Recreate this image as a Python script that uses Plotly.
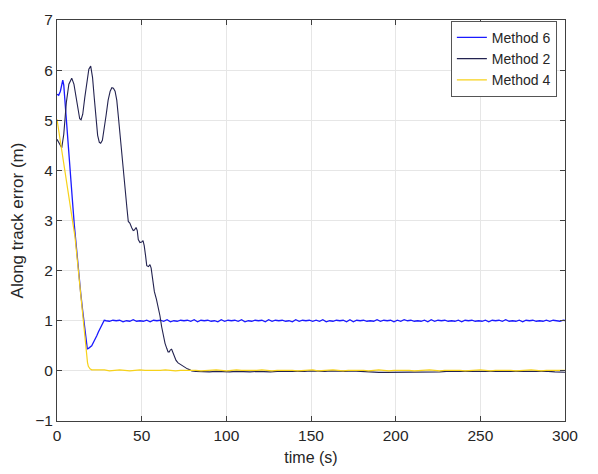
import numpy as np
import plotly.graph_objects as go

# Method 6 (blue) - transient part
m6_t = [0, 1, 2, 2.8, 3.4, 4.0, 4.6, 5.5, 6.5, 7.7, 9.0, 10.2, 11.4, 12.6, 14.0,
        15.0, 16.0, 16.8, 17.4, 17.9, 18.6, 19.5, 20.5, 21.4, 22.5, 23.5, 24.5,
        25.4, 26.5, 27.3, 27.9]
m6_v = [5.52, 5.50, 5.58, 5.75, 5.80, 5.70, 5.45, 5.00, 4.50, 4.00, 3.45, 2.92,
        2.45, 2.02, 1.55, 1.25, 1.00, 0.78, 0.58, 0.44, 0.45, 0.48, 0.50, 0.56,
        0.62, 0.70, 0.78, 0.85, 0.93, 0.98, 1.01]
# Method 6 steady part, sampled every 2 s from 29 s
m6_tail = [1.00, 0.99, 1.01, 1.00, 1.01, 0.98, 1.00, 0.99, 1.02, 0.99, 1.00, 0.99,
           1.01, 0.98, 1.01, 1.00, 1.01, 0.99, 1.02, 0.98, 1.00, 0.99, 1.01, 1.00,
           1.01, 0.99, 1.02, 0.98, 1.01, 1.00, 1.01, 0.99, 1.00, 0.98, 1.02, 0.99,
           1.01, 1.00, 1.01, 0.99, 1.02, 0.98, 1.00, 0.99, 1.01, 1.00, 1.01, 0.98,
           1.02, 0.99, 1.01, 1.00, 1.01, 0.99, 1.00, 0.98, 1.02, 0.99, 1.01, 1.00,
           1.01, 0.99, 1.01, 0.99, 1.02, 0.98, 1.00, 0.99, 1.01, 1.00, 1.01, 0.98,
           1.02, 0.98, 1.01, 1.00, 1.01, 0.99, 1.00, 0.99, 1.02, 0.99, 1.01, 1.00,
           1.01, 0.98, 1.01, 0.99, 1.02, 1.00, 1.01, 0.99, 1.00, 0.99, 1.01, 0.98,
           1.02, 0.99, 1.01, 1.00, 1.01, 0.99, 1.00, 0.99, 1.01, 0.98, 1.01, 1.00,
           1.01, 0.99, 1.00, 0.99, 1.01, 0.98, 1.01, 1.00, 1.01, 0.99, 1.02, 0.99,
           1.00, 0.99, 1.01, 0.98, 1.01, 1.00, 1.01, 0.99, 1.00, 0.99, 1.01, 0.99,
           1.01, 1.00, 0.99, 1.01, 1.00]

# Method 2 (dark navy) - transient part
m2_t = [0, 1, 2, 2.8, 4.0, 5.5, 7.0, 8.7, 10.0, 11.2, 12.4, 13.4, 14.2, 15.2,
        16.4, 17.6, 18.8, 19.9, 21.0, 22.0, 23.0, 24.0, 25.0, 25.8, 26.8, 27.8,
        29.0, 30.2, 31.4, 32.4, 33.3, 34.3, 35.3, 36.3, 37.4, 38.4, 39.2, 40.3,
        41.3, 42.1, 43.0, 44.2, 45.0, 45.7, 46.7, 47.4, 48.0, 49.0, 50.0, 50.8,
        51.5, 52.3, 53.0, 54.0, 54.9, 55.6, 56.3, 57.5, 58.7, 59.8, 60.8, 61.8,
        62.8, 63.8, 64.8, 65.6, 66.3, 67.0, 67.7, 68.5, 69.3, 70.3, 71.5, 72.7,
        74.0, 75.6, 77.0, 78.5, 79.6]
m2_v = [4.62, 4.56, 4.48, 4.45, 4.72, 5.35, 5.72, 5.84, 5.72, 5.45, 5.18, 5.03,
        5.01, 5.12, 5.45, 5.80, 6.02, 6.08, 5.85, 5.45, 5.02, 4.70, 4.56, 4.54,
        4.60, 4.80, 5.10, 5.40, 5.58, 5.65, 5.64, 5.58, 5.40, 5.05, 4.62, 4.25,
        4.01, 3.62, 3.25, 2.98, 2.95, 2.85, 2.80, 2.81, 2.86, 2.80, 2.62, 2.56,
        2.57, 2.60, 2.50, 2.30, 2.10, 2.08, 2.12, 2.05, 1.85, 1.58, 1.43, 1.28,
        1.10, 0.88, 0.70, 0.55, 0.45, 0.38, 0.38, 0.42, 0.43, 0.35, 0.27, 0.21,
        0.16, 0.13, 0.10, 0.07, 0.04, 0.02, 0.00]
# Method 2 steady part, sampled every 4 s from 82 s
m2_tail = [-0.01, -0.02, -0.02, -0.01, -0.02, -0.02, -0.01, -0.02, -0.02, -0.01,
           -0.02, -0.02, -0.01, -0.01, -0.02, -0.01, -0.01, -0.00, -0.01, -0.01,
           -0.00, -0.01, -0.01, -0.00, -0.01, -0.01, -0.02, -0.03, -0.03, -0.03,
           -0.03, -0.03, -0.02, -0.03, -0.03, -0.02, -0.02, -0.01, -0.01, -0.00,
           -0.01, -0.01, -0.00, -0.01, -0.00, 0.00, -0.01, -0.00, -0.01, 0.00,
           -0.01, -0.00, -0.01, -0.02, -0.03, -0.03]

# Method 4 (yellow) - transient part
m4_t = [0, 1, 2, 3, 4.7, 6.0, 7.5, 9.1, 10.6, 11.6, 12.6, 13.5, 14.5, 15.5,
        16.5, 17.0, 17.5, 18.0, 18.5, 19.0, 19.5, 20.5]
m4_v = [5.02, 4.80, 4.60, 4.38, 4.00, 3.72, 3.38, 3.00, 2.68, 2.35, 2.00, 1.66,
        1.33, 1.00, 0.62, 0.44, 0.29, 0.17, 0.09, 0.06, 0.04, 0.02]
# Method 4 steady part, sampled every 3 s from 22 s
m4_tail = [0.02, 0.01, 0.02, 0.00, 0.01, 0.02, 0.01, 0.00, 0.01, 0.02, 0.01, 0.01,
           0.00, 0.01, 0.02, 0.01, 0.00, 0.01, 0.01, 0.02, 0.01, 0.00, 0.01, 0.01,
           0.02, 0.01, 0.00, 0.01, 0.02, 0.01, 0.01, 0.00, 0.01, 0.02, 0.01, 0.00,
           0.01, 0.01, 0.02, 0.01, 0.00, 0.01, 0.01, 0.02, 0.00, 0.01, 0.01, 0.02,
           0.01, 0.00, 0.01, 0.01, 0.02, 0.01, 0.00, 0.01, 0.02, 0.01, 0.00, 0.01,
           0.01, 0.02, 0.01, 0.00, 0.01, 0.01, 0.02, 0.01, 0.00, 0.01, 0.01, 0.02,
           0.01, 0.00, 0.01, 0.01, 0.02, 0.01, 0.00, 0.01, 0.01, 0.02, 0.01, 0.00,
           0.01, 0.01, 0.02, 0.01, 0.00, 0.01, 0.01, 0.00, 0.01, 0.01]

x_ticks = [0, 50, 100, 150, 200, 250, 300]
y_ticks = [-1, 0, 1, 2, 3, 4, 5, 6, 7]


def join(t, v, start, step, tail):
    tt = list(t) + list(start + step * np.arange(len(tail)))
    return tt, list(v) + list(tail)


t6, v6 = join(m6_t, m6_v, 29, 2, m6_tail)
t2, v2 = join(m2_t, m2_v, 82, 4, m2_tail)
t4, v4 = join(m4_t, m4_v, 22, 3, m4_tail)

fig = go.Figure()
fig.add_trace(go.Scatter(x=t6, y=v6, mode='lines', name='Method 6',
                         line=dict(color='#1a1aff', width=1.3)))
fig.add_trace(go.Scatter(x=t2, y=v2, mode='lines', name='Method 2',
                         line=dict(color='#232350', width=1.1)))
fig.add_trace(go.Scatter(x=t4, y=v4, mode='lines', name='Method 4',
                         line=dict(color='#f7d21a', width=1.2)))

axis_style = dict(showline=True, linecolor='#404040', linewidth=1, mirror='ticks',
                  ticks='inside', ticklen=5, tickcolor='#404040',
                  showgrid=True, gridcolor='#e6e6e6', zeroline=False,
                  automargin=False,
                  tickfont=dict(size=15.5, color='#262626'))

fig.update_xaxes(range=[0, 300], tickvals=x_ticks,
                 title=dict(text='time (s)', font=dict(size=16, color='#262626'), standoff=9),
                 **axis_style)
fig.update_yaxes(range=[-1, 7], tickvals=y_ticks,
                 title=dict(text='Along track error (m)', font=dict(size=17, color='#262626'), standoff=11),
                 **axis_style)

# the page body adds an 8 px offset, so the figure is a bit smaller
fig.update_layout(
    width=590, height=466,
    margin=dict(l=49, r=33, t=12, b=53),
    paper_bgcolor='white', plot_bgcolor='white',
    font=dict(family='Liberation Sans, Arial, sans-serif', color='#262626'),
    legend=dict(x=0.984, y=0.998, xanchor='right', yanchor='top',
                bgcolor='white', bordercolor='#555555', borderwidth=1,
                font=dict(size=14), tracegroupgap=0),
)

fig.write_html('out.html')
